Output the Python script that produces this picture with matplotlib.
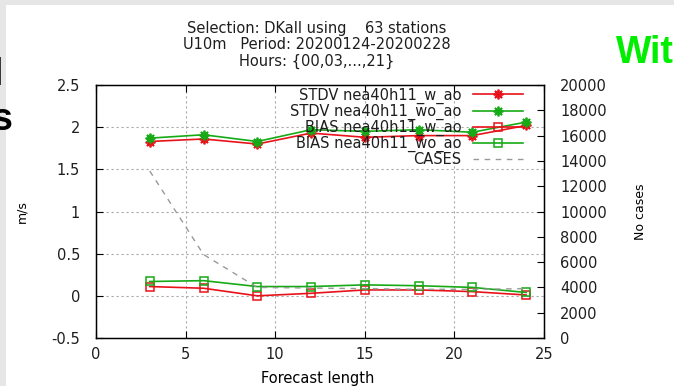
import matplotlib
matplotlib.use('Agg')
import matplotlib.pyplot as plt
from matplotlib.patches import Rectangle

# forecast lengths in hours
leadtimes = [3, 6, 9, 12, 15, 18, 21, 24]

# wind speed scores (m/s), with and without ao
stdv_w_ao = [1.83, 1.86, 1.80, 1.93, 1.88, 1.90, 1.90, 2.02]
stdv_wo_ao = [1.87, 1.91, 1.83, 1.97, 1.95, 1.97, 1.94, 2.06]
bias_w_ao = [0.11, 0.09, 0.00, 0.03, 0.07, 0.07, 0.05, 0.01]
bias_wo_ao = [0.17, 0.18, 0.11, 0.11, 0.13, 0.12, 0.10, 0.04]

# number of cases per lead time (right axis)
cases = [13200, 6600, 4000, 3950, 3900, 3850, 3850, 3900]

labels = ['STDV nea40h11_w_ao', 'STDV nea40h11_wo_ao',
          'BIAS nea40h11_w_ao', 'BIAS nea40h11_wo_ao', 'CASES']
title_lines = ['Selection: DKall using    63 stations',
               'U10m   Period: 20200124-20200228',
               'Hours: {00,03,...,21}']

x_ticks = [0, 5, 10, 15, 20, 25]
y_ticks = [-0.5, 0, 0.5, 1, 1.5, 2, 2.5]
y2_ticks = [0, 2000, 4000, 6000, 8000, 10000, 12000, 14000, 16000, 18000, 20000]

red = '#e8121a'
green = '#16aa16'
ink = '#1e1e1e'

plt.rcParams['font.family'] = ['DejaVu Sans']
plt.rcParams['font.size'] = 10.5
plt.rcParams['text.color'] = ink

W, H = 674, 386
fig = plt.figure(figsize=(W / 100, H / 100), dpi=100)
fig.patch.set_facecolor('#e6e6e6')
# white slide area
fig.add_artist(Rectangle((6 / W, 0), 1, 1 - 5 / H, transform=fig.transFigure,
                         facecolor='white', edgecolor='none', zorder=-5))

# bits of slide text around the chart
fig.text(3 / W, 1 - 85 / H, 'l', ha='right', va='baseline', fontsize=27,
         fontweight='bold', family='Liberation Sans', color='black')
fig.text(13 / W, 1 - 130 / H, 's', ha='right', va='baseline', fontsize=27,
         fontweight='bold', family='Liberation Sans', color='black')
fig.text(616 / W, 1 - 63 / H, 'Wit', ha='left', va='baseline', fontsize=27,
         fontweight='bold', family='Liberation Sans', color='#00ee00')

ax = fig.add_axes([96 / W, 48 / H, 448 / W, 253 / H])
ax.set_xlim(0, 25)
ax.set_ylim(-0.5, 2.5)
ax.set_xticks(x_ticks)
ax.set_xticklabels([str(t) for t in x_ticks])
ax.set_yticks(y_ticks)
ax.set_yticklabels(['%g' % v for v in y_ticks])
ax.tick_params(axis='both', direction='in', length=5, color='black', labelcolor=ink)
ax.tick_params(axis='x', pad=6.5, top=True)
ax.tick_params(axis='y', pad=11.5)
ax.grid(True, color='#aaaaaa', linestyle=(0, (2, 2.5)), linewidth=0.8)
for s in ax.spines.values():
    s.set_linewidth(1.0)

l1, = ax.plot(leadtimes, stdv_w_ao, color=red, lw=1.2, marker=(8, 2, 0), ms=7, mew=1.3)
l2, = ax.plot(leadtimes, stdv_wo_ao, color=green, lw=1.2, marker=(8, 2, 0), ms=7, mew=1.3)
l3, = ax.plot(leadtimes, bias_w_ao, color=red, lw=1.2, marker='s', ms=6, mfc='none', mew=1.1)
l4, = ax.plot(leadtimes, bias_wo_ao, color=green, lw=1.2, marker='s', ms=6, mfc='none', mew=1.1)

ax.set_xlabel('Forecast length')
ax.xaxis.set_label_coords(0.494, -0.13)
ax.set_ylabel('m/s', fontsize=9)
ax.yaxis.set_label_coords(-0.152, 0.5)

# cases on the second y axis
ax2 = ax.twinx()
l5, = ax2.plot(leadtimes, cases, color='#999999', lw=1.0, linestyle=(0, (4, 4)))
ax2.set_ylim(0, 20000)
ax2.set_yticks(y2_ticks)
ax2.set_yticklabels([str(t) for t in y2_ticks])
ax2.tick_params(axis='y', direction='in', length=5, pad=11.5, color='black', labelcolor=ink)
ax2.set_ylabel('No cases', fontsize=9)
ax2.yaxis.set_label_coords(1.2, 0.5)

ax2.legend([l1, l2, l3, l4, l5], labels, loc='upper right',
           bbox_to_anchor=(0.953, 0.99), markerfirst=False, frameon=False,
           borderpad=0, borderaxespad=0, handlelength=3.4, handletextpad=0.8,
           labelspacing=0.0, fontsize=10.5)

fig.text(317 / W, 1 - 21 / H, '\n'.join(title_lines), ha='center', va='top',
         linespacing=1.1)

fig.savefig('out.png', dpi=100, facecolor=fig.get_facecolor())
